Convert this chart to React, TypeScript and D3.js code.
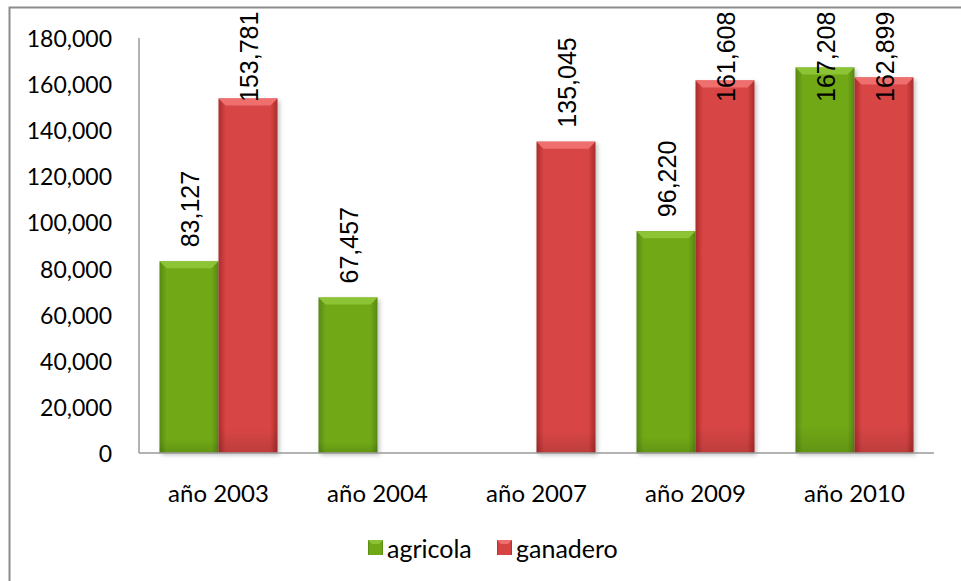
import React from "react";
import * as d3 from "d3";

const categories = ["año 2003", "año 2004", "año 2007", "año 2009", "año 2010"];
const seriesNames = ["agricola", "ganadero"];
const agricola: (number | null)[] = [83127, 67457, null, 96220, 167208];
const ganadero: (number | null)[] = [153781, null, 135045, 161608, 162899];
const yTicks = [0, 20000, 40000, 60000, 80000, 100000, 120000, 140000, 160000, 180000];

const W = 961;
const H = 581;
const plot = { left: 139, right: 934, top: 38, bottom: 453 };
const axisFont = "Lato, 'Open Sans', sans-serif";
const labelFont = "'Liberation Sans', Arial, sans-serif";

const palette = {
  agricola: { mid: "#70a818", edge: "#578810", top: "#8cc436", legend: "#6aa11a" },
  ganadero: { mid: "#d74444", edge: "#aa2c2c", top: "#ef6e6e", legend: "#c43c3c" },
};

export default function App() {
  const y = d3.scaleLinear().domain([0, 180000]).range([plot.bottom, plot.top]);
  const x0 = d3.scaleBand<string>().domain(categories).range([plot.left, plot.right]).padding(0);
  const x1 = d3
    .scaleBand<string>()
    .domain(seriesNames)
    .range([20.5, x0.bandwidth() - 20.5])
    .padding(0);
  const fmt = d3.format(",");
  const data: Record<string, (number | null)[]> = { agricola, ganadero };
  const labelSize = 25;
  const gap = 14;

  return (
    <svg width={W} height={H} style={{ position: "absolute", left: 0, top: 0 }}>
      <defs>
        {seriesNames.map((s) => {
          const p = (palette as any)[s];
          return (
            <linearGradient key={s} id={`g-${s}`} x1="0" x2="1" y1="0" y2="0">
              <stop offset="0" stopColor={p.edge} />
              <stop offset="0.12" stopColor={p.mid} />
              <stop offset="0.88" stopColor={p.mid} />
              <stop offset="1" stopColor={p.edge} />
            </linearGradient>
          );
        })}
        {seriesNames.map((s) => (
          <linearGradient key={s} id={`v-${s}`} x1="0" x2="0" y1="0" y2="1">
            <stop offset="0" stopColor="#000" stopOpacity="0" />
            <stop offset="0.93" stopColor="#000" stopOpacity="0" />
            <stop offset="1" stopColor="#000" stopOpacity="0.12" />
          </linearGradient>
        ))}
        <filter id="shadow" x="-20%" y="-5%" width="140%" height="115%">
          <feDropShadow dx="2" dy="2" stdDeviation="2" floodColor="#000" floodOpacity="0.25" />
        </filter>
      </defs>
      <rect x={9.5} y={7.5} width={W + 20} height={H + 20} fill="#fff" stroke="#8c8c8c" strokeWidth={2} />

      {/* y axis */}
      <line x1={plot.left} x2={plot.left} y1={plot.top} y2={plot.bottom} stroke="#9a9a9a" strokeWidth={1.5} />
      {yTicks.map((t) => (
        <text
          key={t}
          x={112}
          y={y(t)}
          textAnchor="end"
          dominantBaseline="central"
          fontFamily={axisFont}
          fontSize={23}
          fill="#000"
        >
          {fmt(t)}
        </text>
      ))}

      {/* bars */}
      {categories.map((c, i) => (
        <g key={c} transform={`translate(${x0(c)},0)`}>
          {seriesNames.map((s) => {
            const v = data[s][i];
            if (v == null) return null;
            const p = (palette as any)[s];
            const bx = x1(s)!;
            const bw = x1.bandwidth();
            const top = y(v);
            const h = plot.bottom - top;
            const bev = 7;
            return (
              <g key={s}>
                <rect x={bx} y={top} width={bw} height={h} fill={`url(#g-${s})`} filter="url(#shadow)" />
                <rect x={bx} y={top} width={bw} height={h} fill={`url(#v-${s})`} />
                <path
                  d={`M${bx},${top} L${bx + bw},${top} L${bx + bw - bev},${top + bev} L${bx + bev},${top + bev} Z`}
                  fill={p.top}
                />
              </g>
            );
          })}
        </g>
      ))}

      {/* data labels */}
      {categories.map((c, i) =>
        seriesNames.map((s) => {
          const v = data[s][i];
          if (v == null) return null;
          const cx = x0(c)! + x1(s)! + x1.bandwidth() / 2 + 1;
          const top = y(v);
          const len = labelSize * 3.4;
          let start = top - gap;
          if (start - len < 17) start = 17 + len;
          return (
            <text
              key={c + s}
              transform={`translate(${cx},${start}) rotate(-90)`}
              textAnchor="start"
              dominantBaseline="central"
              fontFamily={labelFont}
              fontSize={labelSize}
              fill="#000"
            >
              {fmt(v)}
            </text>
          );
        })
      )}

      {/* x axis */}
      <line x1={plot.left} x2={plot.right} y1={plot.bottom} y2={plot.bottom} stroke="#9a9a9a" strokeWidth={1.5} />
      {categories.map((c) => (
        <text
          key={c}
          x={x0(c)! + x0.bandwidth() / 2}
          y={492}
          textAnchor="middle"
          dominantBaseline="central"
          fontFamily={axisFont}
          fontSize={24}
          fill="#000"
        >
          {c}
        </text>
      ))}

      {/* legend */}
      {[
        { s: "agricola", x: 368, tx: 387 },
        { s: "ganadero", x: 497, tx: 516 },
      ].map(({ s, x: lx, tx }) => {
        const p = (palette as any)[s];
        return (
          <g key={s}>
            <rect x={lx} y={540} width={15} height={15} fill={`url(#g-${s})`} />
            <path d={`M${lx},540 L${lx + 15},540 L${lx + 11},544 L${lx + 4},544 Z`} fill={p.top} />
            <text x={tx} y={548} dominantBaseline="central" fontFamily={axisFont} fontSize={25} fill="#000">
              {s}
            </text>
          </g>
        );
      })}
    </svg>
  );
}
